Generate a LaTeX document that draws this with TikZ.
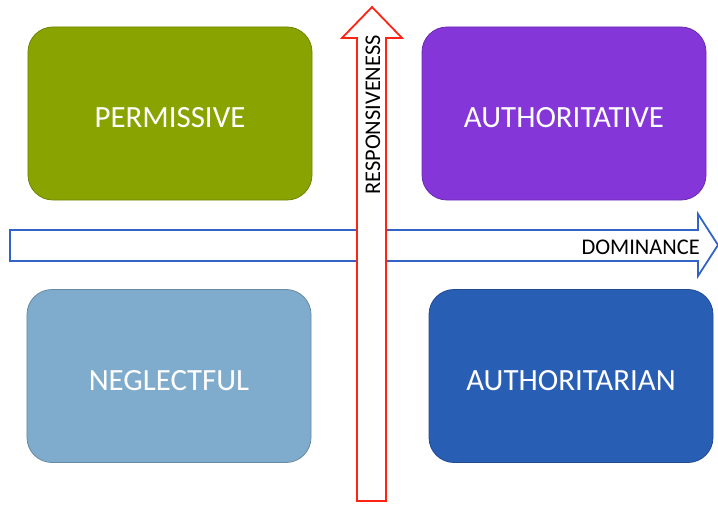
\documentclass[tikz,border=0pt]{standalone}
\usepackage{fontspec}
\setmainfont{Carlito}

\definecolor{permgreen}{RGB}{137,164,0}
\definecolor{authpurple}{RGB}{133,54,217}
\definecolor{neglblue}{RGB}{127,172,204}
\definecolor{tarianblue}{RGB}{41,94,181}
\definecolor{axisblue}{RGB}{50,100,200}
\definecolor{axisred}{RGB}{255,35,20}

\def\domarrow{(10,230) -- (698,230) -- (698,214) -- (718,245) -- (698,276) -- (698,261) -- (10,261) -- cycle}
\def\resparrow{(357,501) -- (357,38) -- (342,38) -- (372,7) -- (402,38) -- (386,38) -- (386,501) -- cycle}

\tikzset{
  stylebox/.style={rounded corners=25bp, minimum width=284bp, minimum height=173bp,
    inner sep=0pt, text=white, font=\fontsize{31}{34}\selectfont,
    text height=28bp, text depth=0pt, line width=0.8pt},
  axislabel/.style={inner sep=0pt, text=black, font=\fontsize{22.5}{24}\selectfont}
}

\begin{document}
\begin{tikzpicture}[x=1bp,y=-1bp]
    \useasboundingbox (0,0) rectangle (718,506);

    \node[stylebox, fill=permgreen, draw=permgreen!80!black] (permissive) at (170,113.5) {PERMISSIVE};
    \node[stylebox, fill=authpurple, draw=authpurple!80!black] (authoritative) at (564,113.5) {AUTHORITATIVE};
    \node[stylebox, fill=neglblue, draw=neglblue!80!black] (neglectful) at (169,376) {NEGLECTFUL};
    \node[stylebox, fill=tarianblue, draw=tarianblue!80!black] (authoritarian) at (571,376) {AUTHORITARIAN};

    \filldraw[fill=white, draw=axisblue, line width=1.8pt, line join=miter] \domarrow;
    \filldraw[fill=white, draw=axisred, line width=1.8pt, line join=miter] \resparrow;

    \node[axislabel, anchor=east] (dominance) at (700,247) {DOMINANCE};
    \node[axislabel, rotate=90] (responsiveness) at (373,115) {RESPONSIVENESS};

  \end{tikzpicture}
\end{document}
